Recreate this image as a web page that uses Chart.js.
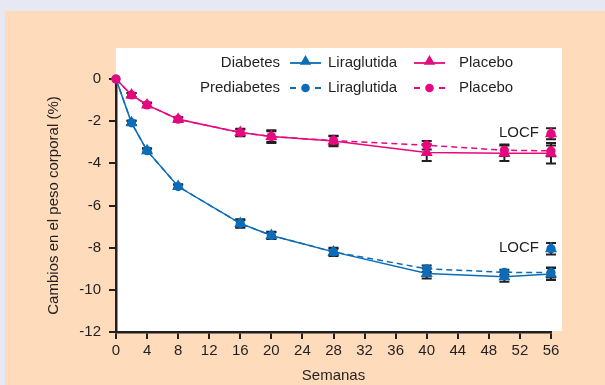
<!DOCTYPE html>
<html><head><meta charset="utf-8">
<script src="https://cdn.jsdelivr.net/npm/chart.js@4.4.0/dist/chart.umd.min.js"></script>
<style>html,body{margin:0;padding:0;background:#E8E8F4;}#wrap{width:605px;height:385px;position:relative;}</style>
</head><body><div id="wrap"><canvas id="c" width="605" height="385"></canvas></div>
<script>
const weeks = [0, 2, 4, 8, 16, 20, 28, 40, 50, 56];
const diaLira = [0, -2.08, -3.4, -5.1, -6.85, -7.42, -8.2, -9.22, -9.38, -9.25];
const diaLiraErr = [0, 0.1, 0.1, 0.1, 0.2, 0.17, 0.2, 0.24, 0.24, 0.28];
const preLira = [0, -2.08, -3.4, -5.1, -6.85, -7.42, -8.2, -9.0, -9.17, -9.18];
const preLiraErr = [0, 0.1, 0.1, 0.1, 0.15, 0.15, 0.15, 0.15, 0.12, 0.24];
const diaPla = [0, -0.76, -1.23, -1.91, -2.54, -2.73, -2.94, -3.49, -3.52, -3.52];
const diaPlaErr = [0, 0.1, 0.1, 0.1, 0.18, 0.3, 0.25, 0.4, 0.37, 0.49];
const prePla = [0, -0.76, -1.23, -1.91, -2.54, -2.73, -2.92, -3.14, -3.38, -3.41];
const prePlaErr = [0, 0.1, 0.1, 0.1, 0.15, 0.25, 0.2, 0.2, 0.27, 0.25];
const locfWeek = [56];
const locfLira = [-8.05];
const locfLiraErr = [0.27];
const locfPla = [-2.6];
const locfPlaErr = [0.26];
const xTicks = [0, 4, 8, 12, 16, 20, 24, 28, 32, 36, 40, 44, 48, 52, 56];
const yTicks = [0, -2, -4, -6, -8, -10, -12];

const BLUE = '#0B6DB7', MAG = '#E5087E', INK = '#231F20';
const FONT = '"Liberation Sans", Arial, sans-serif';
const TRI = 7, DOT = 4.6;

const pts = (xs, ys) => xs.map((x, i) => ({x, y: ys[i]}));

const datasets = [
  {label: 'Prediabetes Liraglutida', data: pts(weeks, preLira), err: preLiraErr, borderColor: BLUE, backgroundColor: BLUE,
   borderWidth: 1.5, borderDash: [6, 4], pointStyle: 'circle', pointRadius: DOT, order: 6},
  {label: 'Diabetes Liraglutida', data: pts(weeks, diaLira), err: diaLiraErr, borderColor: BLUE, backgroundColor: BLUE,
   borderWidth: 1.5, pointStyle: 'triangle', pointRadius: c => c.dataIndex === 0 ? 0 : TRI, order: 5},
  {label: 'Diabetes Placebo', data: pts(weeks, diaPla), err: diaPlaErr, borderColor: MAG, backgroundColor: MAG,
   borderWidth: 1.5, pointStyle: 'triangle', pointRadius: c => c.dataIndex === 0 ? 0 : TRI, order: 4},
  {label: 'Prediabetes Placebo', data: pts(weeks, prePla), err: prePlaErr, borderColor: MAG, backgroundColor: MAG,
   borderWidth: 1.5, borderDash: [6, 4], pointStyle: 'circle', pointRadius: DOT, order: 3},
  {label: 'LOCF Liraglutida', data: pts(locfWeek, locfLira), err: locfLiraErr, showLine: false, borderColor: BLUE, backgroundColor: BLUE,
   pointStyle: 'triangle', pointRadius: TRI, order: 2, locf: true},
  {label: 'LOCF Liraglutida c', data: pts(locfWeek, locfLira), err: [0], showLine: false, borderColor: BLUE, backgroundColor: BLUE,
   pointStyle: 'circle', pointRadius: DOT, order: 2},
  {label: 'LOCF Placebo', data: pts(locfWeek, locfPla), err: locfPlaErr, showLine: false, borderColor: MAG, backgroundColor: MAG,
   pointStyle: 'triangle', pointRadius: TRI, order: 1, locf: true},
  {label: 'LOCF Placebo c', data: pts(locfWeek, locfPla), err: [0], showLine: false, borderColor: MAG, backgroundColor: MAG,
   pointStyle: 'circle', pointRadius: DOT, order: 1}
];
datasets.forEach(d => { d.clip = false; d.pointBorderWidth = 0; d.tension = 0; });

const bgPlugin = {
  id: 'bg',
  beforeDraw(chart) {
    const {ctx, chartArea: a} = chart;
    ctx.save();
    ctx.fillStyle = '#E8E8F4';
    ctx.fillRect(0, 0, chart.width, chart.height);
    ctx.fillStyle = '#FDDBBB';
    ctx.fillRect(5, 11, chart.width - 5, chart.height - 11);
    ctx.fillStyle = '#FFFFFF';
    ctx.fillRect(a.left, a.top - 31, a.right - a.left + 11, a.bottom - a.top + 30);
    ctx.restore();
  }
};

const errPlugin = {
  id: 'err',
  beforeDatasetsDraw(chart) {
    const {ctx, scales: {x, y}} = chart;
    ctx.save();
    ctx.strokeStyle = INK;
    ctx.lineWidth = 2;
    chart.data.datasets.forEach(ds => {
      ds.data.forEach((p, i) => {
        const e = ds.err[i];
        if (!e) return;
        const px = x.getPixelForValue(p.x);
        const y1 = y.getPixelForValue(p.y + e), y2 = y.getPixelForValue(p.y - e);
        ctx.beginPath();
        ctx.moveTo(px, y1); ctx.lineTo(px, y2);
        ctx.moveTo(px - 5, y1); ctx.lineTo(px + 5, y1);
        ctx.moveTo(px - 5, y2); ctx.lineTo(px + 5, y2);
        ctx.stroke();
      });
    });
    ctx.restore();
  },
  afterDatasetsDraw(chart) {
    const {ctx, scales: {x, y}} = chart;
    ctx.save();
    ctx.fillStyle = INK;
    ctx.font = '15px ' + FONT;
    ctx.textAlign = 'right';
    ctx.textBaseline = 'middle';
    chart.data.datasets.forEach(ds => {
      if (!ds.locf) return;
      const p = ds.data[0];
      ctx.fillText('LOCF', x.getPixelForValue(p.x) - 12, y.getPixelForValue(p.y) - 1);
    });
    // legend
    const rows = [
      {y: 63, group: 'Diabetes', style: 'triangle'},
      {y: 88, group: 'Prediabetes', style: 'circle'}
    ];
    const entries = [{x0: 290, color: BLUE, text: 'Liraglutida', tx: 328}, {x0: 414, color: MAG, text: 'Placebo', tx: 459}];
    rows.forEach(r => {
      ctx.textAlign = 'right';
      ctx.fillStyle = INK;
      ctx.fillText(r.group, 280, r.y);
      entries.forEach(en => {
        ctx.strokeStyle = en.color;
        ctx.fillStyle = en.color;
        ctx.lineWidth = 1.8;
        ctx.beginPath();
        if (r.style === 'circle') {
          ctx.moveTo(en.x0, r.y); ctx.lineTo(en.x0 + 6, r.y);
          ctx.moveTo(en.x0 + 25, r.y); ctx.lineTo(en.x0 + 31, r.y);
        } else {
          ctx.moveTo(en.x0, r.y); ctx.lineTo(en.x0 + 31, r.y);
        }
        ctx.stroke();
        Chart.helpers.drawPoint(ctx, {pointStyle: r.style, radius: r.style === 'circle' ? 4.3 : 6.5, borderWidth: 0}, en.x0 + 15.5, r.y - (r.style === 'circle' ? 0 : 1.5));
        ctx.fillStyle = INK;
        ctx.textAlign = 'left';
        ctx.fillText(en.text, en.tx, r.y);
      });
    });
    ctx.restore();
  }
};

new Chart(document.getElementById('c'), {
  type: 'line',
  data: {datasets},
  plugins: [bgPlugin, errPlugin],
  options: {
    responsive: false,
    animation: false,
    events: [],
    layout: {padding: {top: 79, right: 54, left: 0, bottom: 0}},
    plugins: {legend: {display: false}, tooltip: {enabled: false}},
    scales: {
      x: {
        type: 'linear', min: 0, max: 56,
        afterBuildTicks: s => { s.ticks = xTicks.map(v => ({value: v})); },
        afterFit: s => { s.height = 53; },
        grid: {drawOnChartArea: false, drawTicks: true, tickLength: 7, color: INK, lineWidth: 2},
        border: {display: true, color: INK, width: 2.5},
        ticks: {color: INK, font: {family: FONT, size: 15}, padding: 3, maxRotation: 0, autoSkip: false},
        title: {display: true, text: 'Semanas', color: INK, font: {family: FONT, size: 15}, padding: {top: 2, bottom: 0}}
      },
      y: {
        type: 'linear', min: -12, max: 0,
        afterBuildTicks: s => { s.ticks = yTicks.map(v => ({value: v})); },
        afterFit: s => { s.width = 116; },
        grid: {drawOnChartArea: false, drawTicks: true, tickLength: 7, color: INK, lineWidth: 2},
        border: {display: true, color: INK, width: 2.5},
        ticks: {color: INK, font: {family: FONT, size: 15}, padding: 8},
        title: {display: true, text: 'Cambios en el peso corporal (%)', color: INK, font: {family: FONT, size: 15}, padding: {top: 45, bottom: 0}}
      }
    }
  }
});
</script></body></html>
